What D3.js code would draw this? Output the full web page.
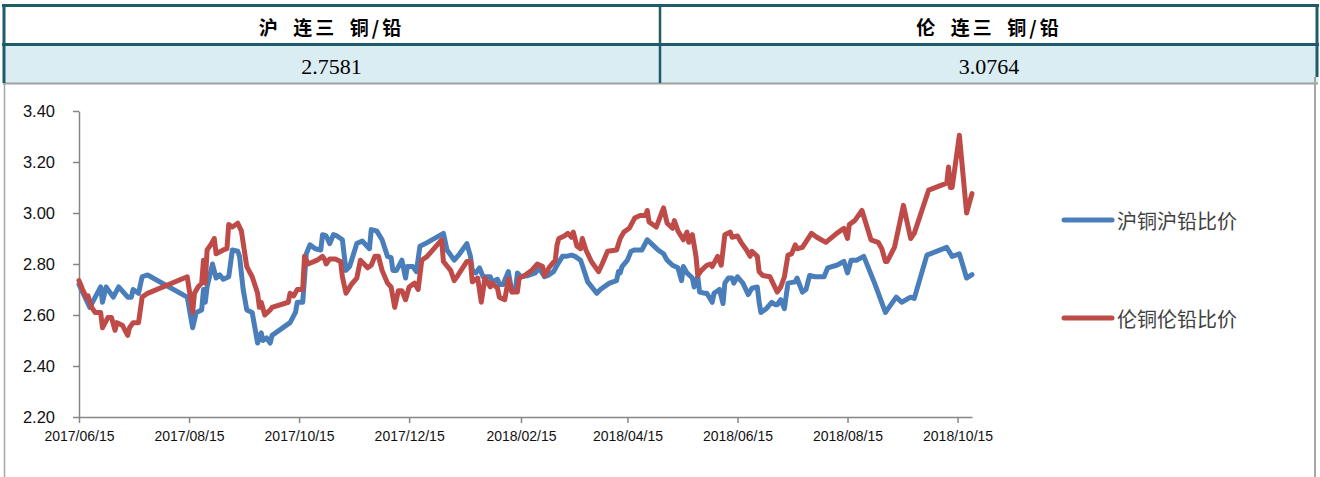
<!DOCTYPE html>
<html>
<head>
<meta charset="utf-8">
<script src="https://cdn.jsdelivr.net/npm/d3@7"></script>
<style>
  body { margin: 0; background: #fff; }
  svg { display: block; }
</style>
</head>
<body>
<div id="chart"></div>
<script>
// header table
const tableHeaders = ["沪\u2002连三\u2002铜/铅", "伦\u2002连三\u2002铜/铅"];
const tableValues = ["2.7581", "3.0764"];

const seriesNames = ["沪铜沪铅比价", "伦铜伦铅比价"];

// SHFE copper / lead ratio
const shDates = [
  "2017-06-15","2017-06-21","2017-06-27","2017-06-28","2017-06-30","2017-07-04","2017-07-07","2017-07-12",
  "2017-07-14","2017-07-15","2017-07-18","2017-07-20","2017-07-23","2017-08-14","2017-08-17","2017-08-19",
  "2017-08-22","2017-08-23","2017-08-24","2017-08-25","2017-08-28","2017-08-30","2017-09-01","2017-09-03",
  "2017-09-06","2017-09-08","2017-09-11","2017-09-12","2017-09-14","2017-09-16","2017-09-19","2017-09-22",
  "2017-09-24","2017-09-25","2017-09-27","2017-09-29","2017-09-30","2017-10-10","2017-10-13","2017-10-14",
  "2017-10-17","2017-10-19","2017-10-21","2017-10-24","2017-10-27","2017-10-28","2017-10-30","2017-11-01",
  "2017-11-03","2017-11-05","2017-11-08","2017-11-10","2017-11-12","2017-11-16","2017-11-19","2017-11-23",
  "2017-11-24","2017-11-27","2017-11-30","2017-12-03","2017-12-05","2017-12-06","2017-12-08","2017-12-11",
  "2017-12-13","2017-12-14","2017-12-17","2017-12-19","2017-12-21","2017-12-24","2018-01-03","2018-01-05",
  "2018-01-09","2018-01-12","2018-01-16","2018-01-18","2018-01-19","2018-01-21","2018-01-23","2018-01-25",
  "2018-01-29","2018-01-30","2018-02-02","2018-02-03","2018-02-05","2018-02-08","2018-02-10","2018-02-12",
  "2018-02-13","2018-02-15","2018-02-19","2018-02-23","2018-02-25","2018-02-28","2018-03-02","2018-03-05",
  "2018-03-07","2018-03-10","2018-03-12","2018-03-15","2018-03-17","2018-03-20","2018-03-21","2018-03-24",
  "2018-03-29","2018-03-31","2018-04-05","2018-04-09","2018-04-10","2018-04-11","2018-04-12","2018-04-15",
  "2018-04-17","2018-04-19","2018-04-23","2018-04-26","2018-04-29","2018-05-02","2018-05-05","2018-05-07",
  "2018-05-10","2018-05-13","2018-05-15","2018-05-16","2018-05-18","2018-05-21","2018-05-22","2018-05-24",
  "2018-05-25","2018-05-28","2018-05-29","2018-06-01","2018-06-02","2018-06-05","2018-06-07","2018-06-08",
  "2018-06-10","2018-06-12","2018-06-13","2018-06-15","2018-06-18","2018-06-21","2018-06-23","2018-06-26",
  "2018-06-27","2018-06-28","2018-07-01","2018-07-04","2018-07-06","2018-07-07","2018-07-09","2018-07-11",
  "2018-07-13","2018-07-17","2018-07-18","2018-07-21","2018-07-23","2018-07-25","2018-07-28","2018-08-02",
  "2018-08-04","2018-08-09","2018-08-13","2018-08-15","2018-08-17","2018-08-20","2018-08-24","2018-08-30",
  "2018-09-05","2018-09-06","2018-09-11","2018-09-14","2018-09-19","2018-09-21","2018-09-28","2018-10-09",
  "2018-10-12","2018-10-16","2018-10-20","2018-10-23"
];
const shValues = [
  2.72,2.63,2.71,2.65,2.71,2.67,2.71,2.67,
  2.67,2.70,2.685,2.75,2.757,2.67,2.55,2.61,
  2.62,2.70,2.65,2.71,2.80,2.745,2.757,2.74,
  2.75,2.855,2.85,2.83,2.70,2.62,2.61,2.49,
  2.53,2.50,2.51,2.49,2.52,2.57,2.61,2.65,
  2.65,2.84,2.875,2.86,2.855,2.915,2.91,2.88,
  2.915,2.91,2.895,2.775,2.79,2.88,2.89,2.86,
  2.935,2.93,2.895,2.83,2.825,2.775,2.775,2.815,
  2.745,2.79,2.79,2.77,2.87,2.88,2.92,2.855,
  2.815,2.84,2.88,2.83,2.775,2.765,2.785,2.75,
  2.75,2.73,2.74,2.72,2.72,2.77,2.69,2.70,
  2.765,2.75,2.755,2.765,2.785,2.75,2.755,2.77,
  2.795,2.83,2.83,2.835,2.83,2.815,2.795,2.73,
  2.685,2.70,2.725,2.735,2.77,2.765,2.79,2.815,
  2.85,2.855,2.855,2.895,2.875,2.855,2.84,2.815,
  2.795,2.785,2.735,2.79,2.765,2.745,2.71,2.75,
  2.69,2.685,2.685,2.65,2.685,2.70,2.645,2.725,
  2.745,2.745,2.725,2.75,2.725,2.68,2.705,2.71,
  2.65,2.61,2.625,2.65,2.64,2.64,2.66,2.625,
  2.725,2.73,2.745,2.69,2.70,2.755,2.75,2.75,
  2.785,2.795,2.81,2.765,2.815,2.815,2.83,2.725,
  2.61,2.62,2.67,2.65,2.67,2.665,2.835,2.865,
  2.83,2.84,2.745,2.758
];

// LME copper / lead ratio
const lmeDates = [
  "2017-06-15","2017-06-17","2017-06-19","2017-06-20","2017-06-22","2017-06-24","2017-06-27","2017-06-28",
  "2017-07-01","2017-07-03","2017-07-05","2017-07-06","2017-07-09","2017-07-12","2017-07-13","2017-07-15",
  "2017-07-18","2017-07-20","2017-07-23","2017-08-14","2017-08-17","2017-08-18","2017-08-20","2017-08-22",
  "2017-08-23","2017-08-24","2017-08-25","2017-08-27","2017-08-29","2017-08-30","2017-09-03","2017-09-05",
  "2017-09-06","2017-09-08","2017-09-11","2017-09-13","2017-09-16","2017-09-19","2017-09-22","2017-09-23",
  "2017-09-24","2017-09-26","2017-09-29","2017-09-30","2017-10-09","2017-10-10","2017-10-12","2017-10-14",
  "2017-10-17","2017-10-18","2017-10-20","2017-10-25","2017-10-28","2017-10-29","2017-10-30","2017-11-01",
  "2017-11-04","2017-11-07","2017-11-08","2017-11-10","2017-11-13","2017-11-16","2017-11-18","2017-11-22",
  "2017-11-24","2017-11-26","2017-11-28","2017-11-30","2017-12-03","2017-12-05","2017-12-07","2017-12-09",
  "2017-12-11","2017-12-13","2017-12-15","2017-12-18","2017-12-20","2017-12-22","2017-12-25","2018-01-02",
  "2018-01-03","2018-01-07","2018-01-09","2018-01-11","2018-01-16","2018-01-18","2018-01-19","2018-01-22",
  "2018-01-24","2018-01-26","2018-01-29","2018-01-30","2018-02-02","2018-02-03","2018-02-06","2018-02-08",
  "2018-02-10","2018-02-13","2018-02-14","2018-02-17","2018-02-21","2018-02-24","2018-02-27","2018-02-28",
  "2018-03-03","2018-03-06","2018-03-07","2018-03-08","2018-03-11","2018-03-13","2018-03-15","2018-03-16",
  "2018-03-18","2018-03-20","2018-03-21","2018-03-23","2018-03-26","2018-03-30","2018-04-01","2018-04-04",
  "2018-04-09","2018-04-11","2018-04-13","2018-04-16","2018-04-19","2018-04-22","2018-04-25","2018-04-26",
  "2018-04-27","2018-05-01","2018-05-05","2018-05-07","2018-05-10","2018-05-11","2018-05-13","2018-05-16",
  "2018-05-18","2018-05-19","2018-05-21","2018-05-23","2018-05-24","2018-05-26","2018-05-29","2018-05-31",
  "2018-06-01","2018-06-04","2018-06-06","2018-06-08","2018-06-11","2018-06-12","2018-06-15","2018-06-17",
  "2018-06-20","2018-06-22","2018-06-23","2018-06-26","2018-06-27","2018-06-29","2018-07-03","2018-07-04",
  "2018-07-07","2018-07-09","2018-07-11","2018-07-13","2018-07-15","2018-07-17","2018-07-18","2018-07-21",
  "2018-07-26","2018-07-29","2018-08-03","2018-08-09","2018-08-13","2018-08-15","2018-08-16","2018-08-19",
  "2018-08-23","2018-08-28","2018-09-01","2018-09-03","2018-09-05","2018-09-06","2018-09-10","2018-09-12",
  "2018-09-15","2018-09-19","2018-09-21","2018-09-29","2018-10-09","2018-10-10","2018-10-11","2018-10-12",
  "2018-10-16","2018-10-20","2018-10-23"
];
const lmeValues = [
  2.735,2.70,2.67,2.675,2.63,2.61,2.61,2.55,
  2.59,2.59,2.54,2.57,2.56,2.52,2.55,2.57,
  2.57,2.67,2.685,2.75,2.61,2.685,2.71,2.725,
  2.815,2.725,2.855,2.875,2.90,2.84,2.855,2.86,
  2.955,2.945,2.96,2.93,2.79,2.75,2.685,2.63,
  2.65,2.60,2.62,2.63,2.65,2.685,2.675,2.70,
  2.70,2.83,2.80,2.815,2.83,2.82,2.80,2.82,
  2.82,2.81,2.75,2.685,2.72,2.745,2.815,2.785,
  2.795,2.83,2.83,2.775,2.725,2.71,2.63,2.695,
  2.695,2.66,2.71,2.725,2.70,2.815,2.83,2.895,
  2.81,2.775,2.735,2.755,2.81,2.81,2.73,2.745,
  2.65,2.745,2.71,2.725,2.705,2.67,2.66,2.74,
  2.69,2.69,2.745,2.755,2.775,2.80,2.79,2.755,
  2.79,2.815,2.875,2.90,2.91,2.92,2.905,2.925,
  2.87,2.86,2.90,2.855,2.81,2.77,2.80,2.85,
  2.855,2.90,2.925,2.94,2.98,2.99,2.99,3.01,
  2.965,2.945,3.02,2.96,2.94,2.97,2.93,2.895,
  2.925,2.885,2.915,2.83,2.755,2.775,2.795,2.80,
  2.79,2.83,2.795,2.915,2.925,2.905,2.91,2.885,
  2.855,2.83,2.85,2.83,2.77,2.755,2.75,2.735,
  2.69,2.71,2.75,2.835,2.84,2.875,2.86,2.865,
  2.92,2.905,2.885,2.92,2.94,2.90,2.955,2.97,
  3.01,2.895,2.885,2.86,2.81,2.81,2.865,2.93,
  3.03,2.90,2.92,3.09,3.117,3.18,3.10,3.10,
  3.305,3.00,3.076
];

const xTickDates = ["2017-06-15","2017-08-15","2017-10-15","2017-12-15","2018-02-15",
                    "2018-04-15","2018-06-15","2018-08-15","2018-10-15"];
const yTicks = [2.2, 2.4, 2.6, 2.8, 3.0, 3.2, 3.4];
const colors = ["#4a7ebb", "#be4b48"];

const W = 1320, H = 477;
const parse = d3.timeParse("%Y-%m-%d");
const teal = "#1f5b69";

const svg = d3.select("#chart").append("svg")
  .attr("width", W)
  .attr("height", H);

// ---- header table ----
const colX = [3, 660, 1318];
svg.append("rect").attr("x", 3).attr("y", 5).attr("width", 1315).attr("height", 39).attr("fill", "#fff");
svg.append("rect").attr("x", 3).attr("y", 45).attr("width", 1315).attr("height", 38).attr("fill", "#daedf3");

tableHeaders.forEach((t, i) => {
  const cx = (colX[i] + colX[i + 1]) / 2;
  svg.append("text")
    .attr("x", cx).attr("y", 26.5)
    .attr("text-anchor", "middle")
    .attr("dominant-baseline", "central")
    .style("font-family", "'Noto Sans CJK SC', sans-serif")
    .style("font-size", "19px")
    .style("letter-spacing", "3px")
    .style("font-weight", "bold")
    .attr("fill", "#000")
    .text(t);
  svg.append("text")
    .attr("x", cx).attr("y", 74)
    .attr("text-anchor", "middle")
    .style("font-family", "'Liberation Serif', 'Times New Roman', serif")
    .style("font-size", "22px")
    .attr("fill", "#000")
    .text(tableValues[i]);
});

// table borders
svg.append("line").attr("x1", 2).attr("x2", 1319).attr("y1", 5.5).attr("y2", 5.5)
  .attr("stroke", teal).attr("stroke-width", 3);
svg.append("line").attr("x1", 2).attr("x2", 1319).attr("y1", 44.5).attr("y2", 44.5)
  .attr("stroke", teal).attr("stroke-width", 3);
svg.append("line").attr("x1", 3).attr("x2", 1318).attr("y1", 83.5).attr("y2", 83.5)
  .attr("stroke", "#a0a0a0").attr("stroke-width", 2);
svg.append("line").attr("x1", 4).attr("x2", 4).attr("y1", 4).attr("y2", 83)
  .attr("stroke", teal).attr("stroke-width", 3);
svg.append("line").attr("x1", 660).attr("x2", 660).attr("y1", 4).attr("y2", 83)
  .attr("stroke", teal).attr("stroke-width", 2.5);
svg.append("line").attr("x1", 1317).attr("x2", 1317).attr("y1", 4).attr("y2", 77)
  .attr("stroke", teal).attr("stroke-width", 3);

// chart frame
svg.append("line").attr("x1", 4.5).attr("x2", 4.5).attr("y1", 84).attr("y2", H)
  .attr("stroke", "#a6a6a6").attr("stroke-width", 1.5);
svg.append("line").attr("x1", 1315).attr("x2", 1315).attr("y1", 77).attr("y2", H)
  .attr("stroke", "#a6a6a6").attr("stroke-width", 2);

// ---- line chart ----
const x = d3.scaleTime()
  .domain([parse("2017-06-15"), parse("2018-10-23")])
  .range([79, 972]);
const y = d3.scaleLinear()
  .domain([2.2, 3.4])
  .range([417, 111]);

const yAxis = svg.append("g")
  .attr("transform", "translate(79,0)")
  .call(d3.axisLeft(y).tickValues(yTicks).tickFormat(d3.format(".2f")).tickSize(6).tickSizeOuter(0));
yAxis.select(".domain").attr("stroke", "#868686").attr("stroke-width", 1.5);
yAxis.selectAll(".tick line").attr("stroke", "#868686").attr("stroke-width", 1.5);
yAxis.selectAll(".tick text")
  .attr("x", -24)
  .style("font-family", "'Liberation Sans', Arial, sans-serif")
  .style("font-size", "16.5px")
  .attr("fill", "#111");

const xAxis = svg.append("g")
  .attr("transform", "translate(0,417)")
  .call(d3.axisBottom(x).tickValues(xTickDates.map(parse))
    .tickFormat(d3.timeFormat("%Y/%m/%d")).tickSize(6).tickSizeOuter(0));
xAxis.select(".domain").attr("stroke", "#868686").attr("stroke-width", 1.5);
xAxis.selectAll(".tick line").attr("stroke", "#868686").attr("stroke-width", 1.5);
xAxis.selectAll(".tick text")
  .attr("y", 14)
  .style("font-family", "'Liberation Sans', Arial, sans-serif")
  .style("font-size", "14px")
  .attr("fill", "#111");

const series = [
  { name: seriesNames[0], data: shDates.map((d, i) => ({ date: parse(d), value: shValues[i] })) },
  { name: seriesNames[1], data: lmeDates.map((d, i) => ({ date: parse(d), value: lmeValues[i] })) }
];

const line = d3.line()
  .x(d => x(d.date))
  .y(d => y(d.value));

svg.selectAll(".series")
  .data(series)
  .join("path")
  .attr("class", "series")
  .attr("d", d => line(d.data))
  .attr("fill", "none")
  .attr("stroke", (d, i) => colors[i])
  .attr("stroke-width", 5)
  .attr("stroke-linejoin", "round")
  .attr("stroke-linecap", "round");

// legend
const legendY = [220, 318];
series.forEach((s, i) => {
  svg.append("line")
    .attr("x1", 1064).attr("x2", 1112)
    .attr("y1", legendY[i]).attr("y2", legendY[i])
    .attr("stroke", colors[i]).attr("stroke-width", 5)
    .attr("stroke-linecap", "round");
  svg.append("text")
    .attr("x", 1117).attr("y", legendY[i])
    .attr("dominant-baseline", "central")
    .style("font-family", "'Noto Sans CJK SC', sans-serif")
    .style("font-size", "20px")
    .attr("fill", "#404040")
    .text(s.name);
});
</script>
</body>
</html>
